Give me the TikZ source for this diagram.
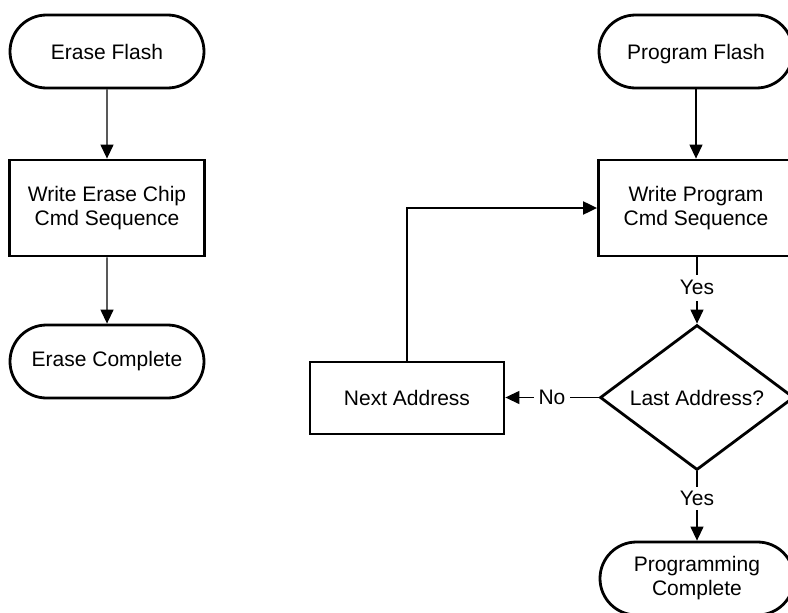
\documentclass[tikz,border=0pt]{standalone}
\usepackage{fontspec}
\setmainfont{Liberation Sans}
\usetikzlibrary{shapes.geometric,shapes.misc,arrows.meta}
\begin{document}
\begin{tikzpicture}[x=1pt,y=-1pt,
  font=\fontsize{21}{24}\selectfont,
  term/.style={rounded rectangle, draw, line width=2.8pt, minimum width=194pt, minimum height=73pt, inner sep=0pt, align=center},
  proc/.style={rectangle, draw, line width=2.8pt, minimum width=195pt, minimum height=96pt, inner sep=0pt, align=center},
  proc2/.style={rectangle, draw, line width=2.8pt, minimum width=194pt, minimum height=72pt, inner sep=0pt, align=center},
  dec/.style={diamond, draw, line width=2.8pt, minimum width=194pt, minimum height=145pt, inner sep=0pt, aspect=1.34},
  conn/.style={line width=1.3pt, -{Triangle[length=14pt,width=13pt]}},
  loopconn/.style={line width=2pt, -{Triangle[length=14pt,width=13pt]}},
  lbl/.style={fill=white, inner xsep=4pt, inner ysep=6pt}
]
\useasboundingbox (0,0) rectangle (788,613);
\clip (0,0) rectangle (788,613);
\fill[white] (0,0) rectangle (788,613);

\node[term] (ef) at (107,51.5) {Erase Flash};
\node[proc] (wec) at (107,208) {Write Erase Chip\\Cmd Sequence};
\node[term] (ec) at (107,361.5) {Erase Complete};

\node[term, text depth=0pt] (pf) at (696,51.5) {Program Flash};
\node[proc] (wpc) at (696,208) {Write Program\\Cmd Sequence};
\node[dec] (la) at (697,397.5) {Last Address?};
\node[proc2] (na) at (407,398) {Next Address};
\node[term] (pc) at (697,578.5) {Programming\\Complete};

\draw[conn] (ef) -- (wec);
\draw[conn] (wec) -- (ec);
\draw[conn] (pf.south) -- (pf.south |- wpc.north);
\draw[conn] (wpc.south -| la.north) -- node[lbl, pos=0.46] {Yes} (la.north);
\draw[conn] (la.south) -- node[lbl, pos=0.39, inner ysep=4.5pt] {Yes} (pc.north);
\draw[conn] (la.west) -- node[lbl, inner ysep=2pt, inner xsep=4.5pt] {No} (na.east |- la.west);
\draw[loopconn] (na.north) |- (wpc.west);
\end{tikzpicture}
\end{document}
